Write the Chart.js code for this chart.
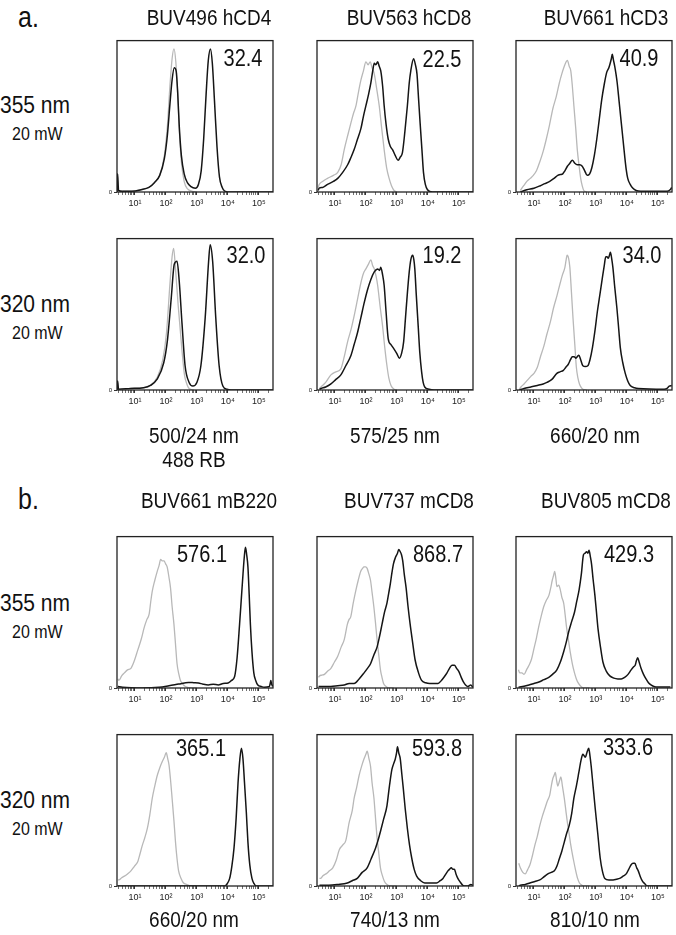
<!DOCTYPE html>
<html>
<head>
<meta charset="utf-8">
<script src="https://cdn.jsdelivr.net/npm/chart.js@4.4.1/dist/chart.umd.min.js"></script>
<style>
body{margin:0;background:#fff;}
#page{position:relative;width:676px;height:935px;overflow:hidden;font-family:"Liberation Sans",Arial,sans-serif;color:#111;}
.t{position:absolute;white-space:nowrap;line-height:1;}
.box{position:absolute;}
</style>
</head>
<body>
<div id="page"></div>
<script>
// ---- data (x = log10 of intensity, y = % of panel max) ----
const rowLetters = ['a.', 'b.'];
const panelTitles = ['BUV496 hCD4','BUV563 hCD8','BUV661 hCD3','BUV661 mB220','BUV737 mCD8','BUV805 mCD8'];
const filterLabels = ['500/24 nm','575/25 nm','660/20 nm','660/20 nm','740/13 nm','810/10 nm'];
const laserLabels = ['355 nm','320 nm','355 nm','320 nm'];
const powerLabel = '20 mW';
const panelValues = ['32.4','22.5','40.9','32.0','19.2','34.0','576.1','868.7','429.3','365.1','593.8','333.6'];
const decadeLabels = ['10¹','10²','10³','10⁴','10⁵'];
const decades = [1,2,3,4,5];
const minorSteps = [2,3,4,5,6,7,8,9];

const a1Black = [[0.42,0],[0.44,12],[0.47,1],[0.6,0.5],[0.9,0.5],[1.2,1.5],[1.45,3],[1.62,6],[1.8,11],[1.95,22],[2.05,38],[2.13,58],[2.2,74],[2.27,82],[2.33,80],[2.38,66],[2.43,44],[2.5,24],[2.59,12],[2.7,6],[2.81,3.5],[2.95,2.5],[3.05,5],[3.14,14],[3.22,35],[3.3,65],[3.37,87],[3.44,94.5],[3.5,85],[3.57,60],[3.65,30],[3.73,10],[3.82,3],[3.9,0.6],[4.1,0],[5.46,0]];
const a1Gray = [[0.6,0.5],[0.9,0.5],[1.2,1.5],[1.45,3],[1.62,6],[1.8,11],[1.95,24],[2.05,44],[2.13,70],[2.2,88],[2.26,94.5],[2.32,86],[2.38,65],[2.43,42],[2.5,20],[2.59,7],[2.7,2],[2.85,0.5],[3.0,0]];

const a2Black = [[0.42,0],[0.44,6],[0.47,0.5],[0.85,1],[1.28,1.5],[1.5,3],[1.71,7],[1.93,18],[2.05,33],[2.17,60],[2.27,83],[2.36,85],[2.43,72],[2.52,44],[2.62,16],[2.75,5],[2.87,2.6],[3.0,5],[3.13,16],[3.27,48],[3.38,85],[3.43,96],[3.51,85],[3.61,48],[3.72,16],[3.84,2.6],[3.97,0.5],[4.1,0],[5.46,0]];
const a2Gray = [[0.85,1],[1.28,1.5],[1.5,3],[1.71,8],[1.9,20],[2.02,38],[2.13,70],[2.2,88],[2.25,93.5],[2.31,80],[2.4,55],[2.52,26],[2.6,10],[2.66,5],[2.75,1],[2.9,0]];

const a3Gray = [[0.46,3],[0.49,5],[0.6,7],[0.76,9],[0.95,11],[1.09,13],[1.2,18],[1.3,28],[1.42,38],[1.52,46],[1.6,52],[1.68,57],[1.76,66],[1.84,74],[1.92,80],[2.0,86],[2.07,84],[2.14,86],[2.2,82],[2.27,78],[2.35,68],[2.43,57],[2.51,42],[2.59,28],[2.67,16],[2.75,9],[2.83,4],[2.91,1],[3.0,0]];
const a3Black = [[0.46,1],[0.49,2.6],[0.6,3],[0.76,5],[0.95,7],[1.09,9],[1.25,13],[1.41,18],[1.52,23],[1.62,28],[1.73,35],[1.84,42],[1.92,50],[2.0,57],[2.08,64],[2.16,72],[2.22,80],[2.27,85],[2.32,84],[2.38,86],[2.43,83],[2.48,80],[2.54,70],[2.59,57],[2.65,45],[2.72,35],[2.79,30],[2.86,28],[2.95,24],[3.04,21],[3.11,23],[3.18,26],[3.26,40],[3.34,57],[3.4,72],[3.45,80],[3.54,88],[3.6,84],[3.65,78],[3.7,62],[3.75,46],[3.81,28],[3.86,13],[3.92,5],[3.99,1.5],[4.15,0],[5.46,0]];

const a4Gray = [[0.56,1],[0.61,2.6],[0.7,5],[0.77,7],[0.88,9],[0.98,11],[1.08,14],[1.19,20],[1.3,27],[1.4,35],[1.5,44],[1.61,55],[1.72,63],[1.82,72],[1.9,78],[1.98,83],[2.04,86],[2.08,87],[2.14,83],[2.19,80],[2.24,70],[2.29,57],[2.35,42],[2.4,28],[2.46,17],[2.51,9],[2.56,4],[2.61,1],[2.7,0]];
const a4Black = [[0.56,0],[0.77,1.5],[1.0,2.5],[1.19,4],[1.35,5.5],[1.51,7],[1.65,9],[1.77,11],[1.85,11.5],[1.93,12],[2.0,14],[2.08,17],[2.16,19],[2.24,21],[2.32,19],[2.4,18],[2.48,18],[2.56,17],[2.64,14],[2.72,11],[2.8,12],[2.87,16],[2.95,24],[3.03,35],[3.11,48],[3.19,61],[3.27,71],[3.35,79],[3.42,82],[3.45,84],[3.5,88],[3.53,91],[3.57,87],[3.61,83],[3.65,78],[3.69,72],[3.75,60],[3.82,46],[3.88,34],[3.93,24],[3.98,15],[4.03,9],[4.11,5],[4.19,2.6],[4.3,1],[4.45,0.5],[5.3,0.5],[5.4,1.5],[5.45,3]];

const a5Gray = [[0.5,1],[0.55,2],[0.7,5],[0.87,10],[1.03,12],[1.19,14],[1.3,22],[1.41,32],[1.52,40],[1.62,49],[1.73,60],[1.84,71],[1.92,77],[2.0,80],[2.08,83],[2.16,86],[2.22,82],[2.27,80],[2.33,75],[2.38,69],[2.46,55],[2.54,42],[2.61,28],[2.68,16],[2.74,8],[2.81,3],[2.91,0.5],[3.0,0]];
const a5Black = [[0.5,0.5],[0.55,1],[0.7,2],[0.87,4],[1.03,7],[1.19,10],[1.35,16],[1.52,23],[1.62,30],[1.73,38],[1.84,48],[1.95,58],[2.05,66],[2.16,73],[2.27,78],[2.38,80],[2.44,79],[2.48,81],[2.54,76],[2.59,69],[2.65,52],[2.72,34],[2.81,30],[2.91,27],[3.0,24],[3.08,21],[3.15,24],[3.22,32],[3.28,48],[3.34,64],[3.4,78],[3.45,86],[3.51,89],[3.55,86],[3.58,80],[3.63,62],[3.69,42],[3.74,25],[3.8,12],[3.85,5],[3.9,2],[4.04,0.5],[4.2,0],[5.46,0]];

const a6Gray = [[0.53,0.5],[0.58,2],[0.68,4],[0.79,6.5],[0.9,9],[1.0,11],[1.11,15],[1.21,22],[1.32,29],[1.42,37],[1.53,45],[1.63,54],[1.74,62],[1.84,70],[1.92,76],[2.0,81],[2.04,86],[2.07,89],[2.12,87],[2.16,81],[2.21,65],[2.26,48],[2.32,30],[2.37,15],[2.42,8],[2.47,4],[2.53,1.5],[2.58,0.5],[2.7,0]];
const a6Black = [[0.53,0],[0.68,1],[0.9,2],[1.11,3],[1.3,4],[1.42,5],[1.58,7],[1.74,11],[1.84,12],[1.95,13],[2.03,15],[2.11,17],[2.18,20],[2.24,22],[2.3,22],[2.35,21],[2.4,22],[2.45,23],[2.51,20],[2.58,16],[2.66,15.5],[2.74,16],[2.81,20],[2.89,28],[2.97,39],[3.05,52],[3.13,63],[3.21,74],[3.27,82],[3.32,88],[3.36,88],[3.4,87],[3.44,89],[3.47,91],[3.51,87],[3.55,81],[3.61,68],[3.68,54],[3.74,40],[3.79,28],[3.87,18],[3.95,11],[4.03,6],[4.11,3],[4.25,1.5],[4.37,1],[5.21,0.5],[5.3,1],[5.37,2.5],[5.45,3]];

const b1Gray = [[0.45,6],[0.48,5],[0.57,8],[0.66,10],[0.76,12],[0.87,13],[0.98,18],[1.09,25],[1.2,32],[1.3,40],[1.38,45],[1.46,49],[1.51,57],[1.56,64],[1.64,71],[1.72,77],[1.78,81],[1.83,85],[1.88,84],[1.94,84],[1.99,82],[2.04,80],[2.1,73],[2.15,66],[2.2,54],[2.26,42],[2.31,29],[2.36,16],[2.42,9],[2.47,5],[2.55,2.5],[2.63,1],[2.84,0],[3.0,0]];
const b1Black = [[0.45,1],[0.6,0.5],[1.24,0],[1.78,0.5],[2.1,1.5],[2.41,2.6],[2.73,3.7],[2.9,3.5],[3.05,3.3],[3.2,2.5],[3.37,2],[3.53,2.5],[3.69,2],[3.85,3],[4.01,3.3],[4.12,5],[4.22,7.6],[4.3,20],[4.38,42],[4.44,60],[4.49,75],[4.53,86],[4.57,93],[4.61,88],[4.65,80],[4.69,62],[4.73,42],[4.78,24],[4.84,10],[4.9,5],[4.97,2],[5.08,1],[5.18,0.5],[5.34,1],[5.37,3],[5.39,5],[5.41,3],[5.45,1]];

const b2Gray = [[0.47,7],[0.5,8],[0.58,8.5],[0.66,9],[0.76,11],[0.87,13],[0.98,17],[1.09,21],[1.2,27],[1.3,32],[1.4,42],[1.45,45],[1.51,47],[1.59,56],[1.67,64],[1.75,71],[1.83,77],[1.89,79],[1.94,80],[1.99,80],[2.04,79],[2.1,75],[2.15,71],[2.2,63],[2.26,53],[2.31,43],[2.36,32],[2.42,21],[2.47,12],[2.52,7],[2.57,3],[2.65,1],[2.73,0],[2.9,0]];
const b2Black = [[0.47,1],[0.87,1],[1.09,1.5],[1.3,2],[1.46,3],[1.62,3],[1.78,6],[1.94,10],[2.05,13],[2.15,16],[2.26,22],[2.36,27],[2.44,34],[2.52,42],[2.6,50],[2.68,56],[2.74,63],[2.79,69],[2.84,76],[2.89,82],[2.95,86],[3.02,89],[3.06,91.5],[3.11,90],[3.15,88],[3.19,84],[3.24,75],[3.3,66],[3.36,54],[3.43,42],[3.51,30],[3.59,18.5],[3.7,10],[3.8,5],[3.93,3.5],[4.06,3],[4.2,3],[4.33,3],[4.44,5],[4.54,7.6],[4.62,10],[4.7,13],[4.78,15],[4.86,15],[4.93,13],[5.0,11],[5.08,7],[5.15,4],[5.22,2],[5.29,1],[5.34,1.5],[5.39,2],[5.45,0.5]];

const b3Gray = [[0.5,12],[0.54,10],[0.61,10],[0.68,9],[0.76,12],[0.84,15],[0.92,19],[1.0,26],[1.08,33],[1.16,41],[1.24,48],[1.32,54],[1.4,58],[1.48,61],[1.54,66],[1.59,71],[1.63,74],[1.67,77],[1.71,72],[1.74,67],[1.8,68],[1.85,65],[1.9,60],[1.96,56],[2.01,48],[2.06,39],[2.12,31],[2.17,24],[2.24,16],[2.31,10],[2.37,6],[2.44,3],[2.52,1],[2.6,0],[2.8,0]];
const b3Black = [[0.5,0.5],[0.54,0.6],[0.84,2],[1.0,3],[1.16,4],[1.32,5.5],[1.48,7],[1.6,9],[1.74,12],[1.85,17],[1.96,24],[2.04,30],[2.12,37],[2.22,44],[2.31,50],[2.38,57],[2.46,65],[2.53,75],[2.6,88],[2.65,89],[2.7,90],[2.74,89],[2.78,91],[2.82,87],[2.86,82],[2.91,72],[2.97,61],[3.02,50],[3.07,39],[3.15,27],[3.23,17],[3.34,11],[3.45,8],[3.58,6.5],[3.71,6],[3.82,6],[3.93,7],[4.04,9],[4.14,12],[4.22,14],[4.27,15],[4.31,18],[4.35,20],[4.4,17],[4.46,13],[4.54,9],[4.62,6],[4.7,3.5],[4.78,2],[4.9,0.8],[4.99,0.6],[5.41,0.6]];

const b4Gray = [[0.45,4],[0.48,4],[0.57,5.5],[0.66,6.5],[0.76,8],[0.87,10],[0.98,13],[1.09,16],[1.16,21],[1.24,27],[1.32,32],[1.4,38],[1.48,47],[1.56,58],[1.64,66],[1.72,73],[1.8,78],[1.88,82],[1.95,85],[2.01,88],[2.06,84],[2.1,80],[2.15,70],[2.2,58],[2.26,43],[2.31,29],[2.36,18],[2.41,10],[2.49,5],[2.57,2],[2.68,1],[2.79,0],[3.0,0]];
const b4Black = [[0.45,0],[3.9,0],[3.98,1.5],[4.06,5],[4.13,13],[4.2,25],[4.27,45],[4.33,68],[4.39,84],[4.44,91],[4.49,84],[4.54,68],[4.6,48],[4.65,29],[4.71,14],[4.78,5],[4.85,1.5],[4.91,0],[5.46,0]];

const b5Gray = [[0.5,5],[0.53,5],[0.62,7],[0.71,8],[0.82,10],[0.93,12],[1.04,17],[1.14,24],[1.25,27],[1.35,30],[1.46,42],[1.56,50],[1.62,58],[1.7,65],[1.78,73],[1.86,79],[1.94,84],[2.0,87],[2.04,89],[2.1,84],[2.15,79],[2.2,68],[2.26,58],[2.31,45],[2.36,32],[2.42,21],[2.47,12],[2.53,7],[2.6,3],[2.68,1],[2.79,0],[3.0,0]];
const b5Black = [[0.5,0.5],[0.8,0.5],[1.09,1],[1.4,2],[1.56,3.5],[1.72,5],[1.88,9],[2.04,12],[2.17,18],[2.31,25],[2.39,30],[2.47,36],[2.57,44],[2.68,53],[2.76,66],[2.84,77],[2.9,81],[2.95,84],[2.99,88],[3.02,92],[3.06,88],[3.11,84],[3.16,74],[3.21,64],[3.27,51],[3.34,38],[3.41,27],[3.48,18.5],[3.56,11],[3.64,6.5],[3.77,3.5],[3.9,2],[4.09,2],[4.28,2],[4.4,3.5],[4.49,5],[4.57,7.5],[4.65,10],[4.7,11],[4.76,12],[4.81,11],[4.86,11],[4.91,8],[4.97,5],[5.05,2.5],[5.13,0.5],[5.21,0],[5.29,0],[5.34,0.5],[5.39,1],[5.45,0.5]];

const b6Gray = [[0.51,15],[0.56,12],[0.64,9],[0.72,8],[0.8,11],[0.87,14],[0.95,20],[1.03,27],[1.11,33],[1.19,40],[1.27,46],[1.35,51],[1.43,56],[1.51,60],[1.56,66],[1.61,71],[1.65,73],[1.69,75],[1.73,70],[1.77,66],[1.82,69],[1.87,72],[1.92,66],[1.98,58],[2.03,50],[2.08,42],[2.14,34],[2.19,27],[2.27,18],[2.35,10],[2.41,5],[2.47,2],[2.55,0.5],[2.66,0],[2.8,0]];
const b6Black = [[0.51,0],[0.56,0.5],[0.72,1],[0.87,2],[1.03,3],[1.19,4],[1.32,6],[1.45,8],[1.56,9],[1.66,10],[1.74,13],[1.82,18],[1.9,23],[1.98,29],[2.06,35],[2.14,40],[2.22,48],[2.29,58],[2.37,66],[2.45,75],[2.52,83],[2.58,87],[2.62,86],[2.66,85],[2.71,88],[2.77,91],[2.81,86],[2.85,79],[2.91,66],[2.98,51],[3.06,35],[3.14,18.5],[3.21,10],[3.29,5],[3.42,4],[3.56,4],[3.67,4.5],[3.77,5],[3.88,6.5],[3.98,8],[4.06,11],[4.14,14],[4.2,15],[4.26,15],[4.32,12],[4.37,10],[4.44,6],[4.51,3],[4.58,1.5],[4.66,0],[5.29,0],[5.46,0]];

const grayCurves = [a1Gray,a3Gray,a4Gray,a2Gray,a5Gray,a6Gray,b1Gray,b2Gray,b3Gray,b4Gray,b5Gray,b6Gray];
const blackCurves = [a1Black,a3Black,a4Black,a2Black,a5Black,a6Black,b1Black,b2Black,b3Black,b4Black,b5Black,b6Black];

// ---- layout ----
const colLeft = [117, 317, 516];
const rowTop = [37, 235, 533, 731];
const plotW = 156, plotH = 155;
const valuePos = [[243,66],[442,67],[639,66],[246,263],[442,263],[642,263],[202,562],[438,562],[629,562],[201,756],[437,756],[628,755]];
const FONT = '"Liberation Sans", Arial, sans-serif';
const STRETCH = 1.16; // source figure is a little taller than wide

const page = document.getElementById('page');

function addText(txt, x, baseline, size, align){
  const d = document.createElement('div');
  d.className = 't';
  d.textContent = txt;
  d.style.fontSize = size + 'px';
  d.style.top = (baseline - 0.847*size) + 'px';
  d.style.transform = 'scaleY(' + STRETCH + ')';
  d.style.transformOrigin = '50% ' + (0.847*size) + 'px';
  if(align === 'center'){
    d.style.left = (x - 100) + 'px';
    d.style.width = '200px';
    d.style.textAlign = 'center';
  } else {
    d.style.left = x + 'px';
  }
  page.appendChild(d);
}

// x ticks: decades + minor
const minorTicks = [];
[0,1,2,3,4,5].forEach(n=>{
  minorSteps.forEach(k=>{
    const v = Math.log10(k) + n;
    if(v > 0.42 && v < 5.46) minorTicks.push(v);
  });
});
const allTicks = decades.concat(minorTicks).sort((a,b)=>a-b);

const framePlugin = {
  id: 'frame',
  afterDatasetsDraw(chart){
    const a = chart.chartArea, ctx = chart.ctx;
    ctx.save();
    ctx.strokeStyle = '#222';
    ctx.lineWidth = 1.3;
    ctx.strokeRect(a.left, a.top, a.right - a.left, a.bottom - a.top);
    ctx.restore();
  }
};

function pts(arr){ return arr.map(p => ({x: p[0], y: p[1]})); }

function makePanel(i){
  const r = Math.floor(i/3), c = i%3;
  const wrap = document.createElement('div');
  wrap.className = 'box';
  wrap.style.left = (colLeft[c] - 20) + 'px';
  wrap.style.top = (rowTop[r] - 2) + 'px';
  const cv = document.createElement('canvas');
  cv.width = plotW + 24;
  cv.height = plotH + 24;
  wrap.appendChild(cv);
  page.appendChild(wrap);

  new Chart(cv.getContext('2d'), {
    type: 'line',
    data: {
      datasets: [
        {data: pts(blackCurves[i]), borderColor: '#151515', borderWidth: 1.5, pointRadius: 0, order: 0,
         cubicInterpolationMode: 'monotone', fill: false},
        {data: pts(grayCurves[i]), borderColor: '#b8b8b8', borderWidth: 1.3, pointRadius: 0, order: 1,
         cubicInterpolationMode: 'monotone', fill: false}
      ]
    },
    options: {
      responsive: false,
      animation: false,
      devicePixelRatio: 1,
      layout: {padding: {top: 2, right: 4, left: 0, bottom: 0}},
      plugins: {legend: {display: false}, tooltip: {enabled: false}},
      scales: {
        x: {
          type: 'linear', min: 0.42, max: 5.46,
          afterFit: ax => { ax.height = 22; },
          afterBuildTicks: ax => { ax.ticks = allTicks.map(v => ({value: v})); },
          border: {display: false},
          grid: {drawOnChartArea: false, tickLength: 3, color: '#333',
                 tickWidth: ctx => (decades.includes(ctx.tick && ctx.tick.value) ? 1 : 0.7)},
          ticks: {
            autoSkip: false, maxRotation: 0, padding: 3, color: '#222',
            font: {family: FONT, size: 9},
            callback: v => { const k = decades.indexOf(v); return k >= 0 ? decadeLabels[k] : ''; }
          }
        },
        y: {
          min: 0, max: 100,
          afterFit: ax => { ax.width = 20; },
          afterBuildTicks: ax => { ax.ticks = [{value: 0}]; },
          border: {display: false},
          grid: {drawOnChartArea: false, tickLength: 3, color: '#333'},
          ticks: {padding: 2, color: '#222', font: {family: FONT, size: 6}, callback: () => '0'}
        }
      }
    },
    plugins: [framePlugin]
  });

  addText(panelValues[i], valuePos[i][0], valuePos[i][1], 20, 'center');
}

for(let i = 0; i < 12; i++) makePanel(i);

// ---- labels ----
const titleCenters = [209, 409, 606];
const bottomCenters = [194, 395, 595];
addText(rowLetters[0], 18, 27, 25, 'left');
addText(rowLetters[1], 18, 509, 25, 'left');
panelTitles.forEach((t, k) => addText(t, titleCenters[k%3], k < 3 ? 25 : 508, 19, 'center'));
filterLabels.forEach((t, k) => addText(t, bottomCenters[k%3], k < 3 ? 443 : 927, 19, 'center'));
addText('488 RB', bottomCenters[0], 467, 19, 'center');
const laserBase = [113, 312, 611, 808];
laserLabels.forEach((t, k) => {
  addText(t, 0, laserBase[k], 21, 'left');
  addText(powerLabel, 12, laserBase[k] + 28, 16, 'left');
});
</script>
</body>
</html>
